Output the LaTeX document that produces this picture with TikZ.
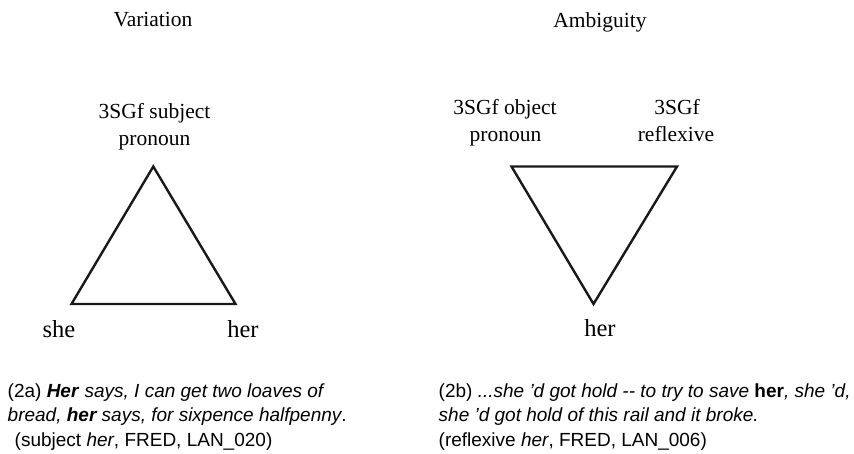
\documentclass[tikz,border=0pt]{standalone}
\usepackage{fontspec}
\setmainfont{Liberation Serif}
\newfontfamily\capfont{Liberation Sans}
\begin{document}
\begin{tikzpicture}[x=1pt,y=-1pt,
  heading/.style={anchor=base,inner sep=0pt,font=\fontsize{21.5}{26}\selectfont},
  label/.style={anchor=base,inner sep=0pt,font=\fontsize{21.5}{26}\selectfont},
  corner/.style={anchor=base,inner sep=0pt,font=\fontsize{24.5}{28}\selectfont},
  capline/.style={anchor=base west,inner sep=0pt,font=\capfont\fontsize{19}{24}\selectfont},
  tri/.style={draw=black!90,line width=2.4pt,line join=miter}]
\useasboundingbox (0,0) rectangle (854,453);

% headings
\node[heading] (hvar) at (153,26) {Variation};
\node[heading] (hamb) at (600,27.5) {Ambiguity};

% left panel: upright triangle
\coordinate (la) at (153.3,166.5);
\coordinate (lb) at (71.5,304);
\coordinate (lc) at (235.5,304);
\draw[tri] (la) -- (lc) -- (lb) -- cycle;
\node[label] (lsub1) at (154.5,118) {3SGf subject};
\node[label] (lsub2) at (154.5,145.5) {pronoun};
\node[corner] (lshe) at (59,337.5) {she};
\node[corner] (lher) at (243,337) {her};

% right panel: inverted triangle
\coordinate (ra) at (511.5,166.5);
\coordinate (rb) at (677,166.5);
\coordinate (rc) at (593.5,304);
\draw[tri] (ra) -- (rb) -- (rc) -- cycle;
\node[label] (robj1) at (505,114) {3SGf object};
\node[label] (robj2) at (505.5,141.5) {pronoun};
\node[label] (rref1) at (677,114) {3SGf};
\node[label] (rref2) at (676,141.5) {reflexive};
\node[corner] (rher) at (600,336.5) {her};

% example sentences
\node[capline] (ca1) at (7.5,397) {(2a) \textbf{\textit{Her}} \textit{says, I can get two loaves of}};
\node[capline] (ca2) at (7.5,421.5) {\textit{bread, \textbf{her} says, for sixpence halfpenny}.};
\node[capline] (ca3) at (14.5,446) {(subject \textit{her}, FRED, LAN\_020)};
\node[capline] (cb1) at (438.5,397) {(2b) \textit{...she ’d got hold -{}- to try to save} \textbf{her}\textit{, she ’d,}};
\node[capline] (cb2) at (438.5,421.5) {\textit{she ’d got hold of this rail and it broke.}};
\node[capline] (cb3) at (438.5,446) {(reflexive \textit{her}, FRED, LAN\_006)};
\end{tikzpicture}
\end{document}
